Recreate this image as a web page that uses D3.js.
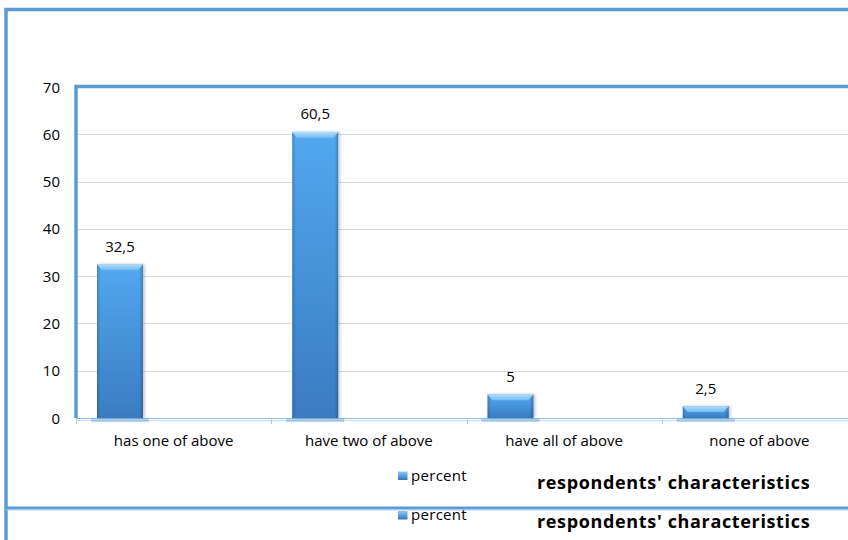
<!DOCTYPE html>
<html>
<head>
<meta charset="utf-8">
<script src="https://cdn.jsdelivr.net/npm/d3@7"></script>
<style>
  html, body { margin: 0; padding: 0; background: #fff; }
  svg { display: block; }
  text { font-family: "Open Sans", "Noto Sans", sans-serif; fill: #000; }
</style>
</head>
<body>
<svg id="chart" width="848" height="540"></svg>
<script>
// ---- data ----
const categories = ["has one of above", "have two of above", "have all of above", "none of above"];
const seriesName = "percent";
const values = [32.5, 60.5, 5, 2.5];
const valueLabels = ["32,5", "60,5", "5", "2,5"];
const yTicks = [0, 10, 20, 30, 40, 50, 60, 70];
const axisTitle = "respondents' characteristics";

// ---- layout ----
const W = 848, H = 540;
const plotLeft = 76, plotTop = 87, plotBottom = 418, plotRight = 857;
const svg = d3.select("#chart");
const defs = svg.append("defs");

const bodyGrad = defs.append("linearGradient").attr("id", "barBody").attr("x1", 0).attr("y1", 0).attr("x2", 0).attr("y2", 1);
bodyGrad.append("stop").attr("offset", "0%").attr("stop-color", "#52a8ef");
bodyGrad.append("stop").attr("offset", "100%").attr("stop-color", "#3a7cc2");

const sideGrad = defs.append("linearGradient").attr("id", "barSide").attr("x1", 0).attr("y1", 0).attr("x2", 1).attr("y2", 0);
sideGrad.append("stop").attr("offset", "0%").attr("stop-color", "#000").attr("stop-opacity", 0.18);
sideGrad.append("stop").attr("offset", "8%").attr("stop-color", "#000").attr("stop-opacity", 0.0);
sideGrad.append("stop").attr("offset", "92%").attr("stop-color", "#000").attr("stop-opacity", 0.0);
sideGrad.append("stop").attr("offset", "100%").attr("stop-color", "#000").attr("stop-opacity", 0.22);

const capGrad = defs.append("linearGradient").attr("id", "barCap").attr("x1", 0).attr("y1", 0).attr("x2", 0).attr("y2", 1);
capGrad.append("stop").attr("offset", "0%").attr("stop-color", "#b3defb");
capGrad.append("stop").attr("offset", "100%").attr("stop-color", "#72baf3");

const iconGrad = defs.append("linearGradient").attr("id", "iconGrad").attr("x1", 0).attr("y1", 0).attr("x2", 0).attr("y2", 1);
iconGrad.append("stop").attr("offset", "0%").attr("stop-color", "#8ccaf6");
iconGrad.append("stop").attr("offset", "100%").attr("stop-color", "#3275bd");

const shadow = defs.append("filter").attr("id", "shadow").attr("x", "-30%").attr("y", "-10%").attr("width", "160%").attr("height", "120%");
shadow.append("feDropShadow").attr("dx", 1.5).attr("dy", 0).attr("stdDeviation", 1.5).attr("flood-color", "#000").attr("flood-opacity", 0.25);

// scales
const x = d3.scaleBand().domain(categories).range([plotLeft, plotRight]).paddingInner(0).paddingOuter(0);
const y = d3.scaleLinear().domain([0, 70]).range([plotBottom, plotTop]);
const barOffset = 0.1075, barWidthFrac = 0.2355;

// gridlines
svg.append("g").selectAll("line").data(yTicks.filter(d => d > 0 && d < 70)).join("line")
  .attr("x1", plotLeft + 2).attr("x2", W)
  .attr("y1", d => Math.round(y(d)) + 0.5).attr("y2", d => Math.round(y(d)) + 0.5)
  .attr("stroke", "#d9d9d9").attr("stroke-width", 1);

// y axis labels
const yAxis = d3.axisLeft(y).tickValues(yTicks).tickSize(0).tickPadding(0);
const yg = svg.append("g").attr("transform", `translate(60,0)`).call(yAxis);
yg.select(".domain").remove();
yg.selectAll("text").attr("font-size", 15).attr("font-family", "Open Sans").attr("fill", "#000").attr("dy", "0.34em");

// x axis baseline
svg.append("line").attr("x1", plotLeft).attr("x2", W).attr("y1", plotBottom + 0.5).attr("y2", plotBottom + 0.5)
  .attr("stroke", "#8fbbe6").attr("stroke-width", 1);
svg.append("line").attr("x1", plotLeft).attr("x2", W).attr("y1", plotBottom + 2.5).attr("y2", plotBottom + 2.5)
  .attr("stroke", "#c9def2").attr("stroke-width", 1);
// tick marks at band boundaries
const bounds = categories.map(c => x(c)).concat([plotRight]);
svg.append("g").selectAll("line").data(bounds).join("line")
  .attr("x1", d => Math.round(d) + 0.5).attr("x2", d => Math.round(d) + 0.5)
  .attr("y1", plotBottom + 1).attr("y2", plotBottom + 6)
  .attr("stroke", "#c8c8c8").attr("stroke-width", 1);

// bars
const bars = svg.append("g").selectAll("g").data(values.map((v, i) => ({ v, c: categories[i], l: valueLabels[i] }))).join("g");
bars.each(function(d) {
  const g = d3.select(this);
  const bx = x(d.c) + x.bandwidth() * barOffset;
  const bw = x.bandwidth() * barWidthFrac;
  const top = y(d.v), bot = y(0);
  const h = bot - top;
  g.append("rect").attr("x", bx - 6).attr("y", bot).attr("width", bw + 12).attr("height", 4)
    .attr("fill", "#7ab3e6").attr("opacity", 0.55);
  g.append("rect").attr("x", bx).attr("y", top).attr("width", bw).attr("height", h)
    .attr("fill", "url(#barBody)").attr("filter", "url(#shadow)");
  g.append("rect").attr("x", bx).attr("y", top).attr("width", bw).attr("height", h)
    .attr("fill", "url(#barSide)");
  const cap = Math.min(6, h / 2);
  g.append("path")
    .attr("d", `M${bx},${top} H${bx + bw} L${bx + bw - 5},${top + cap} H${bx + 5} Z`)
    .attr("fill", "url(#barCap)");
  g.append("text").attr("x", bx + bw / 2).attr("y", top - 12.5)
    .attr("text-anchor", "middle").attr("font-size", 15).text(d.l);
});

// x labels
const xAxis = d3.axisBottom(x).tickSize(0).tickPadding(0);
const xg = svg.append("g").attr("transform", `translate(0,${plotBottom})`).call(xAxis);
xg.select(".domain").remove();
xg.selectAll("text").attr("font-size", 15).attr("font-family", "Open Sans").attr("fill", "#000").attr("y", 28).attr("dy", 0);

// frames
svg.append("path").attr("d", `M6,${H} V9.5 H${W}`).attr("fill", "none").attr("stroke", "#5b9bd5").attr("stroke-width", 3.5);
svg.append("path").attr("d", `M${plotLeft},${plotBottom} V${plotTop - 0.5} H${W}`).attr("fill", "none").attr("stroke", "#5b9bd5").attr("stroke-width", 3.5);

// separator line
svg.append("line").attr("x1", 6).attr("x2", W).attr("y1", 508).attr("y2", 508).attr("stroke", "#5b9bd5").attr("stroke-width", 3);
svg.append("line").attr("x1", 6).attr("x2", W).attr("y1", 510).attr("y2", 510).attr("stroke", "#a9c9ea").attr("stroke-width", 1);

// legends + axis titles (duplicated)
const legendRows = [{ iy: 471.5, ty: 481, tt: 489 }, { iy: 511, ty: 520, tt: 528 }];
legendRows.forEach(r => {
  svg.append("rect").attr("x", 398).attr("y", r.iy).attr("width", 9.5).attr("height", 8.5).attr("fill", "url(#iconGrad)");
  svg.append("text").attr("x", 411).attr("y", r.ty).attr("font-size", 15).attr("letter-spacing", 0.3).text(seriesName);
  svg.append("text").attr("x", 537).attr("y", r.tt).attr("font-size", 18).attr("letter-spacing", 0.65).attr("font-weight", "bold").text(axisTitle);
});
</script>
</body>
</html>
